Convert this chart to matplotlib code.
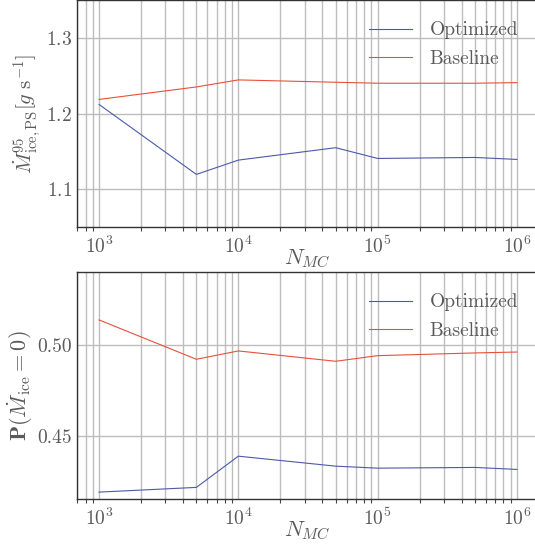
import matplotlib
matplotlib.use('Agg')
import matplotlib.pyplot as plt
from matplotlib.ticker import LogLocator, NullFormatter

plt.rcParams['font.family'] = 'serif'
plt.rcParams['font.serif'] = ['cmr10']
plt.rcParams['mathtext.fontset'] = 'cm'
plt.rcParams['axes.formatter.use_mathtext'] = True

n_mc = [1e3, 5e3, 1e4, 5e4, 1e5, 5e5, 1e6]

# top panel: 95th percentile ice mass rate
mdot_opt = [1.212, 1.1195, 1.1384, 1.1548, 1.1406, 1.1419, 1.1393]
mdot_base = [1.2186, 1.2351, 1.2444, 1.2413, 1.2400, 1.2400, 1.2408]

# bottom panel: probability of zero ice
p_opt = [0.4191, 0.4217, 0.4389, 0.4334, 0.4323, 0.4327, 0.4316]
p_base = [0.514, 0.4923, 0.4969, 0.4912, 0.4943, 0.4958, 0.4963]

blue = '#4c5aa8'
red = '#e8503c'
txt = '#5a5a5a'

fig = plt.figure(figsize=(5.35, 5.54), dpi=100)
W, H = 535, 554
ax1 = fig.add_axes([77 / W, 1 - 227 / H, 460 / W, 227 / H])
ax2 = fig.add_axes([77 / W, 1 - 499 / H, 460 / W, 227 / H])

ax1.plot(n_mc, mdot_opt, color=blue, lw=0.8, label='Optimized')
ax1.plot(n_mc, mdot_base, color=red, lw=0.8, label='Baseline')
ax1.set_ylim(1.05, 1.35)
ax1.set_yticks([1.1, 1.2, 1.3])
ax1.set_ylabel(r'$\dot{M}_{\mathrm{ice,PS}}^{95}[g\ \mathrm{s}^{-1}]$', fontsize=15, color=txt, labelpad=2)

ax2.plot(n_mc, p_opt, color=blue, lw=0.8, label='Optimized')
ax2.plot(n_mc, p_base, color=red, lw=0.8, label='Baseline')
ax2.set_ylim(0.4153, 0.5404)
ax2.set_yticks([0.45, 0.50])
ax2.set_yticklabels(['0.45', '0.50'])
ax2.set_ylabel(r'$\mathbf{P}(\dot{M}_{\mathrm{ice}}=0)$', fontsize=16, color=txt, labelpad=2)

for ax in (ax1, ax2):
    ax.set_xscale('log')
    ax.set_xlim(10 ** 2.842, 10 ** 6.144)
    ax.xaxis.set_minor_locator(LogLocator(base=10, subs=range(2, 10), numticks=20))
    ax.xaxis.set_minor_formatter(NullFormatter())
    ax.grid(True, which='both', axis='x', color='#bdbdbd', lw=1)
    ax.grid(True, which='major', axis='y', color='#bdbdbd', lw=1)
    ax.set_axisbelow(True)
    ax.tick_params(axis='both', which='both', colors='#444444', labelcolor=txt, labelsize=14, length=3, width=0.8)
    ax.tick_params(axis='y', length=0)
    ax.tick_params(axis='x', which='major', length=0, pad=6)
    for s in ('left', 'bottom', 'top'):
        ax.spines[s].set_color('#333333')
        ax.spines[s].set_linewidth(1)
    ax.spines['right'].set_visible(False)
    ax.set_xlabel(r'$N_{MC}$', fontsize=16, color=txt, labelpad=-6)
    ax.legend(loc='upper right', frameon=False, fontsize=14, labelcolor=txt,
              handlelength=2.2, handletextpad=0.9, labelspacing=0.55,
              borderaxespad=0.7, bbox_to_anchor=(1.005, 1.0))

fig.savefig('out.png', dpi=100)
